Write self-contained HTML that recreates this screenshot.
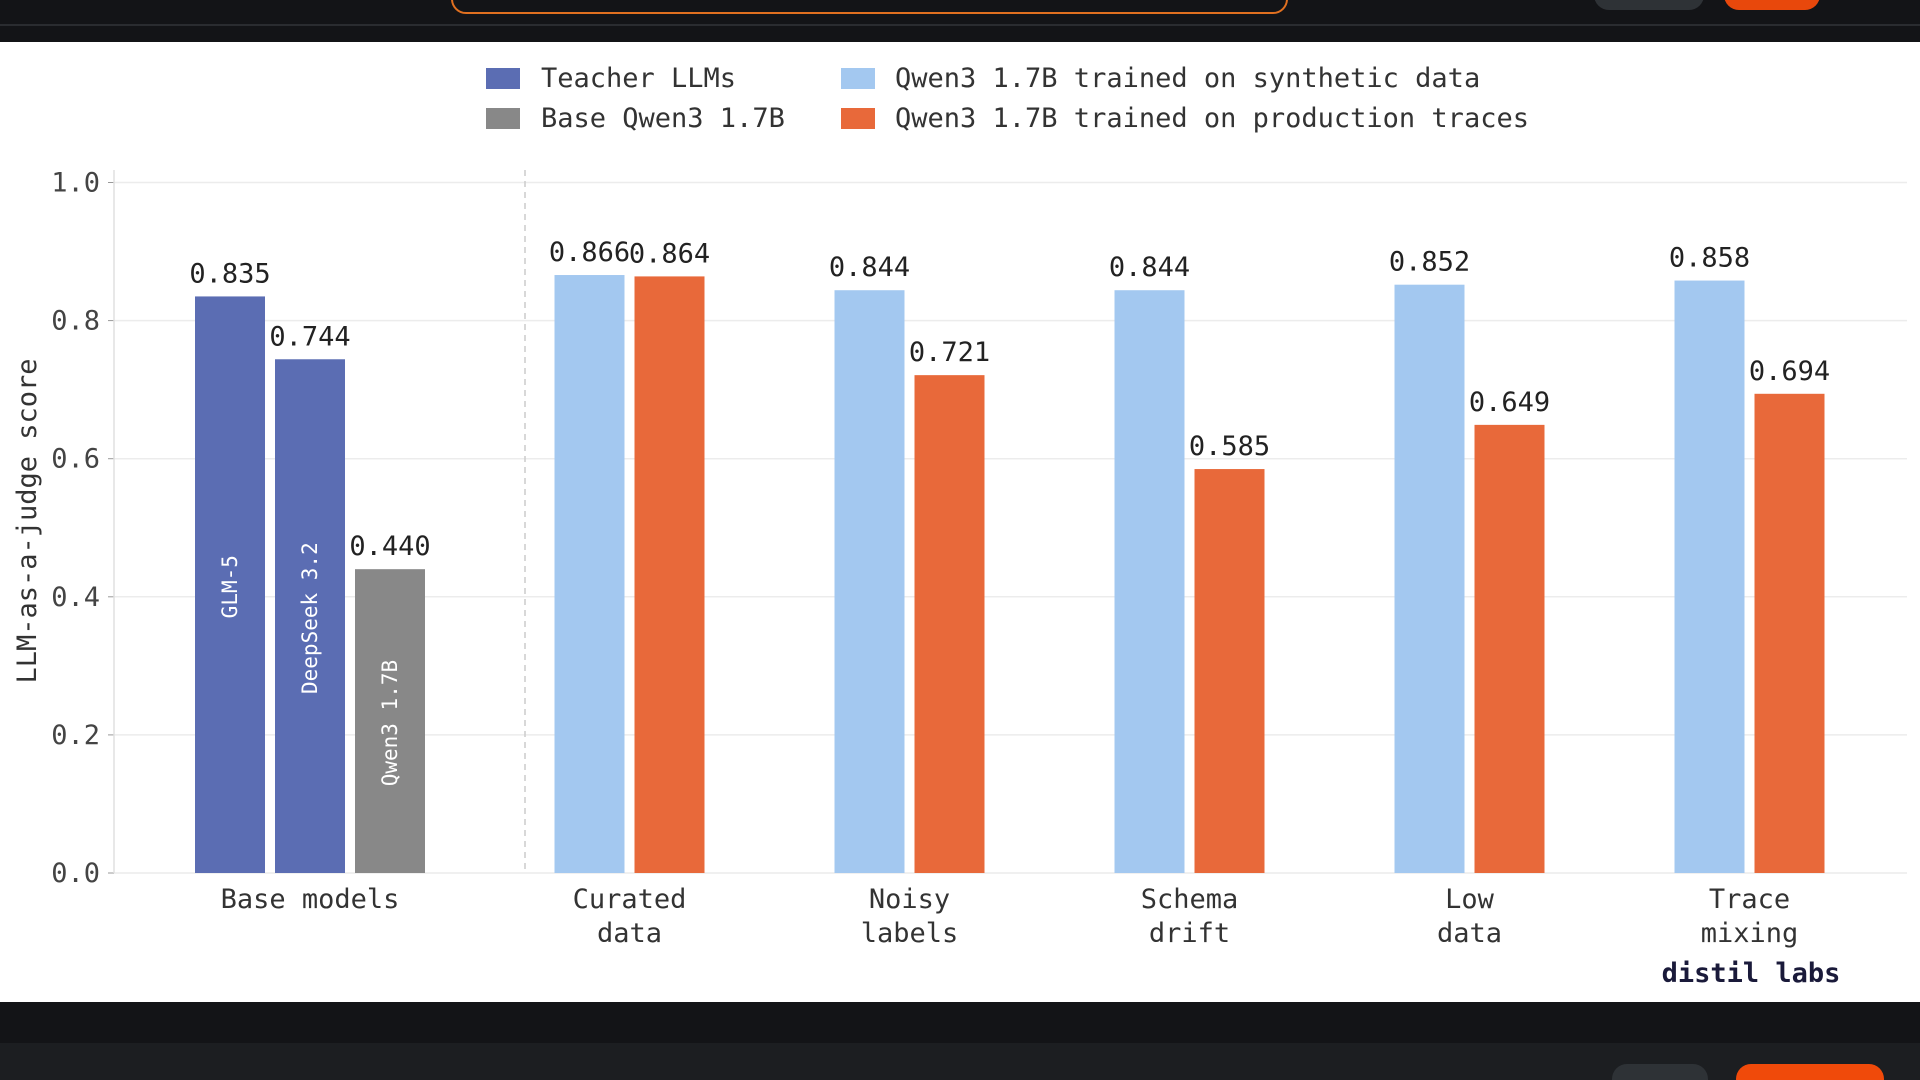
<!DOCTYPE html>
<html><head><meta charset="utf-8"><style>
html,body{margin:0;padding:0;width:1920px;height:1080px;overflow:hidden;background:#fff;font-family:"DejaVu Sans Mono","Liberation Mono",monospace;}
svg{display:block}
</style></head><body>
<svg width="1920" height="1080" id="svg" xmlns="http://www.w3.org/2000/svg">
<rect x="0" y="0" width="1920" height="42" fill="#131417"/>
<rect x="0" y="24" width="1920" height="2" fill="#2a2c30"/>
<rect x="452" y="-20" width="835" height="33" rx="14" fill="none" stroke="#e07020" stroke-width="2"/>
<rect x="1594" y="-20" width="110" height="30" rx="15" fill="#2e3236"/>
<rect x="1724" y="-20" width="96" height="30" rx="15" fill="#e8480c"/>
<rect x="0" y="1002" width="1920" height="78" fill="#131417"/>
<rect x="0" y="1043" width="1920" height="37" fill="#1c1e21"/>
<rect x="1612" y="1064" width="96" height="30" rx="15" fill="#2e3236"/>
<rect x="1736" y="1064" width="148" height="30" rx="15" fill="#f04a0a"/>
<g id="legend" font-size="27" fill="#333">
 <g><rect x="486" y="68" width="34" height="21" fill="#5b6db3"/><text x="541" y="87">Teacher LLMs</text></g>
 <g><rect x="486" y="108" width="34" height="21" fill="#888888"/><text x="541" y="127">Base Qwen3 1.7B</text></g>
 <g><rect x="841" y="68" width="34" height="21" fill="#a3c8f0"/><text x="895" y="87">Qwen3 1.7B trained on synthetic data</text></g>
 <g><rect x="841" y="108" width="34" height="21" fill="#e8693a"/><text x="895" y="127">Qwen3 1.7B trained on production traces</text></g>
</g>
<g id="grid"></g>
<g id="bars"></g>
<text x="1751" y="982" text-anchor="middle" font-size="27" font-weight="bold" fill="#1a1a3a">distil labs</text>
<text transform="translate(36,521) rotate(-90)" text-anchor="middle" font-size="27" fill="#333">LLM-as-a-judge score</text>
</svg>
<script>
const yTicks=[0,0.2,0.4,0.6,0.8,1.0];
const yTickLabels=["0.0","0.2","0.4","0.6","0.8","1.0"];
const baseNames=["GLM-5","DeepSeek 3.2","Qwen3 1.7B"];
const baseValues=[0.835,0.744,0.440];
const baseKinds=["teacher","teacher","base"];
const groups=[["Curated","data"],["Noisy","labels"],["Schema","drift"],["Low","data"],["Trace","mixing"]];
const syntheticValues=[0.866,0.844,0.844,0.852,0.858];
const productionValues=[0.864,0.721,0.585,0.649,0.694];

const NS="http://www.w3.org/2000/svg";
const svg=document.getElementById('svg');
const Y0=873,Y1=182.5,XL=114,XR=1907;
const y=v=>Y0-(Y0-Y1)*v;
const groupX=i=>629.5+i*280;
const colors={teacher:"#5b6db3",base:"#888888",syn:"#a3c8f0",prod:"#e8693a"};
function mk(tag,attrs,parent){const e=document.createElementNS(NS,tag);for(const k in attrs)e.setAttribute(k,attrs[k]);parent.appendChild(e);return e;}
const grid=document.getElementById('grid'),bars=document.getElementById('bars');
yTicks.forEach((t,i)=>{
 const g=mk('line',{x1:XL,x2:XR,y1:y(t),y2:y(t),stroke:"#ececec","stroke-width":1.5},grid);
 
 
 const tk=mk('line',{x1:XL-6,x2:XL,y1:y(t),y2:y(t),stroke:"#999","stroke-width":1},grid);
 
 
 const lb=mk('text',{x:XL-14,y:y(t)+9,"text-anchor":"end","font-size":27,fill:"#444"},grid);
 lb.textContent=yTickLabels[i];
 
 
});
const ax=mk('line',{x1:XL,x2:XL,y1:170,y2:Y0,stroke:"#e0e0e0","stroke-width":1.5},grid);


const dv=mk('line',{x1:525,x2:525,y1:170,y2:Y0,stroke:"#ccc","stroke-width":1.5,"stroke-dasharray":"6,5"},grid);


const BW=70;
function bar(cx,v,col,name){
 const r=mk('rect',{x:cx-BW/2,y:y(v),width:BW,height:Y0-y(v),fill:col},bars);
 
 
 const t=mk('text',{x:cx,y:y(v)-14,"text-anchor":"middle","font-size":27,fill:"#222"},bars);
 t.textContent=v.toFixed(3);
 
 
}
baseValues.forEach((v,i)=>{
 const cx=310+(i-1)*80;
 bar(cx,v,colors[baseKinds[i]],'bar-base-'+i);
 const t=mk('text',{transform:`translate(${cx+7},${(y(v)+Y0)/2+2}) rotate(-90)`,"text-anchor":"middle","font-size":21,fill:"#fff"},bars);
 t.textContent=baseNames[i];
 
 
});
const bl=mk('text',{x:310,y:908,"text-anchor":"middle","font-size":27,fill:"#333"},bars);
bl.textContent="Base models";


groups.forEach((g,i)=>{
 const cx=groupX(i);
 bar(cx-40,syntheticValues[i],colors.syn,'bar-synthetic-'+i);
 bar(cx+40,productionValues[i],colors.prod,'bar-production-'+i);
 g.forEach((line,j)=>{
  const t=mk('text',{x:cx,y:908+j*34,"text-anchor":"middle","font-size":27,fill:"#333"},bars);
  t.textContent=line;
  
  
 });
});
</script>
</body></html>
